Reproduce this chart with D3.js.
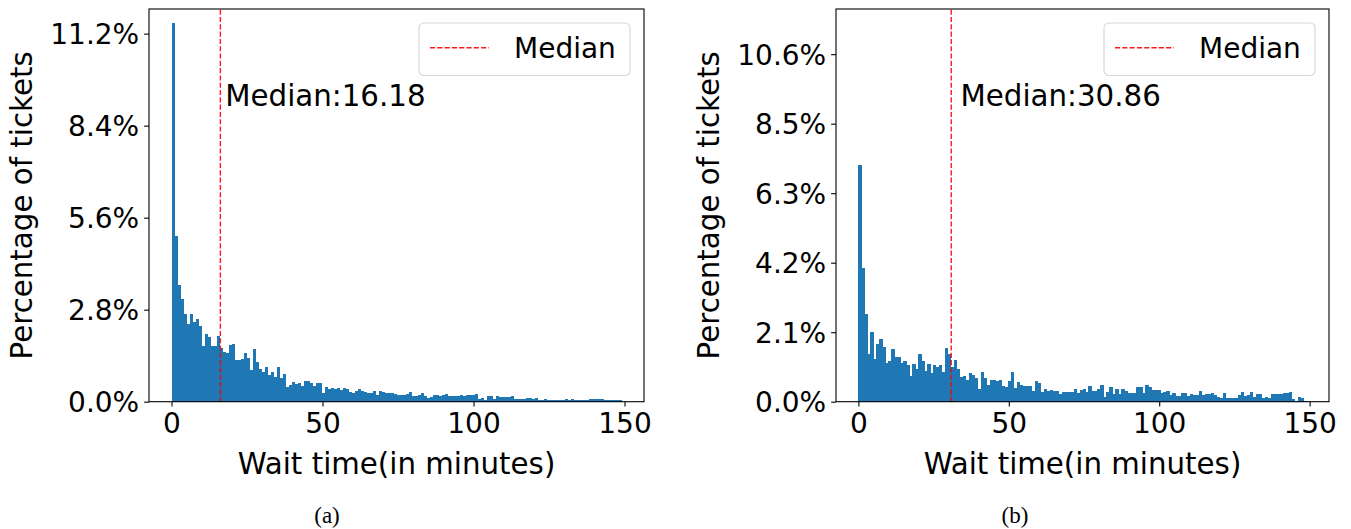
<!DOCTYPE html>
<html>
<head>
<meta charset="utf-8">
<script src="https://cdn.jsdelivr.net/npm/d3@7"></script>
<style>
  body { margin: 0; background: #fff; }
  svg { display: block; font-family: "DejaVu Sans", sans-serif; }
</style>
</head>
<body>
<svg id="main-svg" width="1351" height="529"></svg>
<script>
// histogram values, percent of tickets per bin (0..149 min, 150 bins)
const pctA = [
  11.53, 5.04, 3.54, 3.12, 2.66, 2.36, 2.67, 2.44, 2.52, 2.31,
  1.71, 2.06, 1.98, 1.71, 1.71, 2.01, 1.64, 1.50, 1.47, 1.73,
  1.76, 1.27, 1.27, 1.30, 1.49, 1.32, 0.97, 1.60, 1.22, 1.00,
  0.91, 1.07, 0.80, 0.91, 0.74, 1.07, 0.71, 0.84, 0.46, 0.51,
  0.59, 0.54, 0.56, 0.49, 0.62, 0.62, 0.56, 0.49, 0.58, 0.56,
  0.27, 0.46, 0.40, 0.43, 0.40, 0.43, 0.36, 0.41, 0.39, 0.30,
  0.25, 0.34, 0.40, 0.33, 0.30, 0.25, 0.27, 0.34, 0.20, 0.34,
  0.30, 0.27, 0.27, 0.25, 0.22, 0.20, 0.20, 0.20, 0.23, 0.28,
  0.18, 0.17, 0.20, 0.27, 0.17, 0.10, 0.15, 0.20, 0.21, 0.17,
  0.19, 0.22, 0.17, 0.17, 0.17, 0.17, 0.19, 0.17, 0.19, 0.19,
  0.19, 0.22, 0.07, 0.11, 0.05, 0.18, 0.18, 0.08, 0.17, 0.13,
  0.13, 0.13, 0.15, 0.18, 0.07, 0.07, 0.07, 0.07, 0.12, 0.12,
  0.07, 0.10, 0.06, 0.05, 0.09, 0.05, 0.05, 0.05, 0.05, 0.05,
  0.05, 0.09, 0.05, 0.09, 0.06, 0.06, 0.05, 0.06, 0.06, 0.07,
  0.09, 0.09, 0.09, 0.09, 0.05, 0.05, 0.05, 0.05, 0.04, 0.04
];
const pctB = [
  7.20, 4.08, 2.67, 1.45, 2.13, 1.31, 1.77, 1.90, 1.67, 1.19,
  1.24, 1.61, 1.37, 1.37, 1.17, 1.24, 1.12, 0.79, 1.14, 1.01,
  1.44, 1.24, 0.93, 1.14, 0.86, 1.11, 1.06, 1.11, 0.89, 1.62,
  1.44, 1.06, 1.27, 1.01, 0.76, 0.79, 0.66, 0.86, 0.80, 0.73,
  0.39, 0.89, 0.71, 0.51, 0.67, 0.67, 0.63, 0.67, 0.48, 0.46,
  0.64, 0.89, 0.41, 0.60, 0.50, 0.48, 0.49, 0.48, 0.32, 0.63,
  0.58, 0.28, 0.38, 0.33, 0.37, 0.33, 0.33, 0.23, 0.31, 0.31,
  0.31, 0.28, 0.38, 0.27, 0.35, 0.38, 0.30, 0.48, 0.33, 0.33,
  0.38, 0.51, 0.15, 0.30, 0.44, 0.23, 0.38, 0.23, 0.38, 0.33,
  0.27, 0.25, 0.25, 0.44, 0.44, 0.25, 0.51, 0.46, 0.35, 0.35,
  0.35, 0.25, 0.30, 0.32, 0.20, 0.25, 0.18, 0.18, 0.25, 0.25,
  0.18, 0.22, 0.20, 0.20, 0.33, 0.20, 0.23, 0.23, 0.25, 0.20,
  0.13, 0.10, 0.25, 0.10, 0.10, 0.10, 0.10, 0.20, 0.30, 0.17,
  0.20, 0.30, 0.15, 0.22, 0.22, 0.10, 0.13, 0.10, 0.22, 0.22,
  0.22, 0.22, 0.27, 0.27, 0.30, 0.07, 0.02, 0.13, 0.10, 0.02
];
const binRange = [0, 149];
const medians = [16.18, 30.86];
const xTicks = [0, 50, 100, 150];
const yTicksA = [0, 2.8, 5.6, 8.4, 11.2];
const yLabelsA = ['0.0%', '2.8%', '5.6%', '8.4%', '11.2%'];
const yTicksB = [0, 2.115, 4.23, 6.345, 8.46, 10.575];
const yLabelsB = ['0.0%', '2.1%', '4.2%', '6.3%', '8.5%', '10.6%'];
const captions = ['(a)', '(b)'];

const svg = d3.select('#main-svg');
const plotTop = 9, plotBottom = 401.7;
const fs = 28;
const labelFs = 29.3;

const panels = [
  { values: pctA, median: medians[0], ticks: yTicksA, labels: yLabelsA, left: 149, right: 644, cap: captions[0], capX: 327 },
  { values: pctB, median: medians[1], ticks: yTicksB, labels: yLabelsB, left: 836, right: 1329, cap: captions[1], capX: 1015 }
];

panels.forEach(p => {
  const n = p.values.length;
  const bw = (binRange[1] - binRange[0]) / n;
  // 5% margin each side like matplotlib
  const pad = (binRange[1] - binRange[0]) * 0.05;
  const x = d3.scaleLinear().domain([binRange[0] - pad, binRange[1] + pad]).range([p.left, p.right]);
  const y = d3.scaleLinear().domain([0, 11.95]).range([plotBottom, plotTop]);

  const g = svg.append('g');

  // bars
  g.selectAll('.bar')
    .data(p.values)
    .enter()
    .append('rect')
    .attr('class', 'bar')
    .attr('x', (d, i) => x(binRange[0] + i * bw))
    .attr('width', (d, i) => x(binRange[0] + (i + 1) * bw) - x(binRange[0] + i * bw) + 0.4)
    .attr('y', d => y(d))
    .attr('height', d => y(0) - y(d))
    .attr('shape-rendering', 'crispEdges')
    .style('fill', '#1f77b4');

  // median line
  g.append('line')
    .attr('x1', x(p.median)).attr('x2', x(p.median))
    .attr('y1', plotBottom).attr('y2', plotTop)
    .style('stroke', '#ff0000')
    .style('stroke-width', 1.4)
    .style('stroke-dasharray', '5.1,2.2')
    .style('opacity', 0.9);

  g.append('text')
    .attr('x', x(p.median * 1.1))
    .attr('y', y(9.0))
    .style('font-size', labelFs + 'px')
    .text('Median:' + p.median.toFixed(2));

  // axes
  const xAxis = d3.axisBottom(x).tickValues(xTicks).tickSize(4.9).tickPadding(4.9).tickFormat(d3.format('d'));
  const gx = g.append('g').attr('transform', `translate(0,${plotBottom})`).call(xAxis);
  const yAxis = d3.axisLeft(y).tickValues(p.ticks).tickSize(4.9).tickPadding(4.9)
    .tickFormat((d, i) => p.labels[i]);
  const gy = g.append('g').attr('transform', `translate(${p.left},0)`).call(yAxis);
  [gx, gy].forEach(a => {
    a.select('.domain').remove();
    a.selectAll('.tick line').style('stroke', '#000').style('stroke-width', 1.1);
    a.selectAll('.tick text').style('font-size', fs + 'px').style('font-family', 'DejaVu Sans').style('fill', '#000');
  });
  gx.selectAll('.tick text').attr('dy', null).attr('y', 31.3);
  gy.selectAll('.tick text').attr('dy', '0.36em');

  // frame
  g.append('rect')
    .attr('x', p.left).attr('y', plotTop)
    .attr('width', p.right - p.left).attr('height', plotBottom - plotTop)
    .style('fill', 'none').style('stroke', '#000').style('stroke-width', 1.1);

  // legend
  const lx = p.right - 14 - 211, ly = plotTop + 14;
  const lg = g.append('g');
  lg.append('rect')
    .attr('x', lx).attr('y', ly).attr('width', 211).attr('height', 52.5)
    .attr('rx', 5).attr('ry', 5)
    .style('fill', '#fff').style('fill-opacity', 0.8)
    .style('stroke', '#d6d6d6').style('stroke-width', 1.1);
  lg.append('line')
    .attr('x1', lx + 11).attr('x2', lx + 70)
    .attr('y1', ly + 24.7).attr('y2', ly + 24.7)
    .style('stroke', '#ff0000').style('stroke-width', 1.4)
    .style('stroke-dasharray', '5.1,2.2').style('opacity', 0.9);
  lg.append('text')
    .attr('x', lx + 95).attr('y', ly + 34.7)
    .style('font-size', fs + 'px')
    .text('Median');

  // axis labels
  g.append('text')
    .attr('x', (p.left + p.right) / 2).attr('y', 474)
    .attr('text-anchor', 'middle')
    .style('font-size', labelFs + 'px')
    .text('Wait time(in minutes)');
  g.append('text')
    .attr('transform', `translate(${p.left - 117},${(plotTop + plotBottom) / 2}) rotate(-90)`)
    .attr('text-anchor', 'middle')
    .style('font-size', labelFs + 'px')
    .text('Percentage of tickets');

  // caption
  g.append('text')
    .attr('x', p.capX).attr('y', 523)
    .attr('text-anchor', 'middle')
    .style('font-family', '"Liberation Serif", serif')
    .style('font-size', '23px')
    .text(p.cap);
});
</script>
</body>
</html>
